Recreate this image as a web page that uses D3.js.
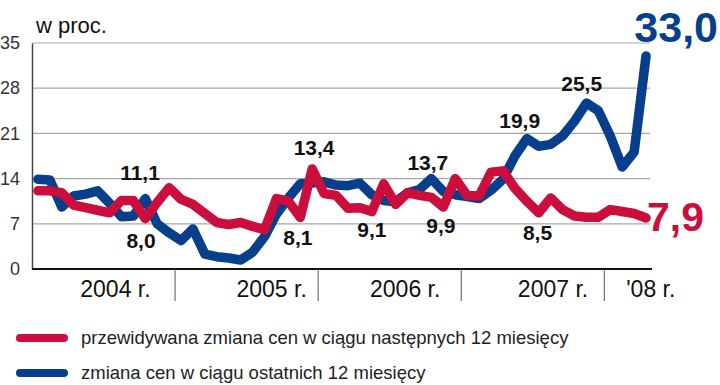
<!DOCTYPE html>
<html>
<head>
<meta charset="utf-8">
<script src="https://cdn.jsdelivr.net/npm/d3@7"></script>
<style>
  body { margin: 0; background: #fff; }
  text { font-family: "Liberation Sans", Arial, sans-serif; }
</style>
</head>
<body>
<svg width="720" height="385"></svg>
<script>
// monthly values, Jan 2004 .. Apr 2008
var expected = [12.1, 12.1, 11.8, 9.9, 9.5, 9.1, 8.7, 10.6, 10.6, 7.8, 10.3, 12.6,
                10.8, 10.0, 8.6, 7.2, 6.9, 7.2, 6.6, 6.1, 10.9, 10.5, 8.0, 15.5,
                11.7, 11.4, 9.4, 9.5, 8.9, 13.2, 10.0, 11.8, 11.4, 11.1, 9.6, 14.0,
                11.4, 11.3, 15.0, 15.2, 12.5, 10.5, 8.7, 11.0, 9.2, 8.2, 8.0, 8.0,
                9.2, 8.9, 8.6, 7.9];
var perceived = [13.9, 13.8, 9.6, 11.3, 11.6, 12.1, 10.2, 8.1, 8.2, 10.9, 7.0, 5.6,
                 4.4, 6.2, 2.3, 1.9, 1.7, 1.4, 2.6, 5.0, 8.5, 11.0, 13.2, 13.3,
                 13.5, 13.0, 12.9, 13.3, 11.5, 10.6, 10.4, 11.8, 12.3, 14.0, 12.0, 11.5,
                 11.2, 10.9, 12.2, 13.9, 17.5, 20.2, 19.0, 19.3, 20.6, 22.9, 25.7, 24.5,
                 20.6, 15.8, 18.1, 33.0];

var yTicks = [0, 7, 14, 21, 28, 35];
var yearLabels = ["2004 r.", "2005 r.", "2006 r.", "2007 r.", "'08 r."];
var yearLabelMonth = [7.0, 20.1, 31.3, 43.7, 51.9];
var yearBreaks = [12, 24, 36, 48];

var seriesNames = ["przewidywana zmiana cen w ciągu następnych 12 miesięcy",
                   "zmiana cen w ciągu ostatnich 12 miesięcy"];

// callouts: text, month position, value position
var notes = [
    ["11,1", 9.06, 13.8], ["8,0", 9.14, 3.3], ["13,4", 23.66, 17.7], ["8,1", 22.3, 3.7],
    ["9,1", 28.5, 5.0], ["13,7", 33.2, 15.4], ["9,9", 34.3, 5.6], ["19,9", 40.9, 21.9],
    ["25,5", 46.1, 27.5], ["8,5", 42.4, 4.5]
];

var red = "#cc0e3d", blue = "#083f8c";

var svg = d3.select("svg");

var x = d3.scaleLinear().domain([0, 52]).range([32, 652]);
var y = d3.scaleLinear().domain([0, 35]).range([269, 43]);

// gridlines
svg.append("g").selectAll("line")
    .data(yTicks.filter(function(d) { return d > 0; }))
    .enter().append("line")
    .attr("x1", x(0)).attr("x2", 650)
    .attr("y1", function(d) { return y(d); })
    .attr("y2", function(d) { return y(d); })
    .attr("stroke", "#a8a8a8").attr("stroke-width", 1.2);

var yAxis = d3.axisLeft(y).tickValues(yTicks).tickSize(0).tickPadding(12);
var gy = svg.append("g").attr("transform", "translate(" + x(0) + ",0)").call(yAxis);
gy.select(".domain").attr("stroke", "#444").attr("stroke-width", 1.5);
gy.selectAll("text")
    .attr("font-family", "Liberation Sans, Arial, sans-serif")
    .attr("font-size", 18).attr("fill", "#333");

svg.append("text").attr("x", 36).attr("y", 33)
    .attr("font-size", 22).attr("fill", "#111").text("w proc.");

// baseline and year separators
svg.append("line").attr("x1", x(0)).attr("x2", 652)
    .attr("y1", y(0)).attr("y2", y(0))
    .attr("stroke", "#111").attr("stroke-width", 2);

svg.append("g").selectAll("line")
    .data(yearBreaks).enter().append("line")
    .attr("x1", function(d) { return x(d); })
    .attr("x2", function(d) { return x(d); })
    .attr("y1", y(0)).attr("y2", y(0) + 32)
    .attr("stroke", "#555").attr("stroke-width", 1);

svg.append("g").selectAll("text")
    .data(yearLabels).enter().append("text")
    .attr("x", function(d, i) { return x(yearLabelMonth[i]); })
    .attr("y", 297)
    .attr("text-anchor", "middle")
    .attr("font-size", 23).attr("fill", "#111")
    .text(function(d) { return d; });

// lines
var line = d3.line()
    .x(function(d, i) { return x(i + 0.5); })
    .y(function(d) { return y(d); });

svg.append("path").datum(perceived)
    .attr("d", line).attr("fill", "none")
    .attr("stroke", blue).attr("stroke-width", 9.5)
    .attr("stroke-linejoin", "round").attr("stroke-linecap", "round");

svg.append("path").datum(expected)
    .attr("d", line).attr("fill", "none")
    .attr("stroke", red).attr("stroke-width", 9.5)
    .attr("stroke-linejoin", "round").attr("stroke-linecap", "round");

// callouts
svg.append("g").selectAll("text")
    .data(notes).enter().append("text")
    .attr("x", function(d) { return x(d[1]); })
    .attr("y", function(d) { return y(d[2]); })
    .attr("text-anchor", "middle")
    .attr("font-size", 21).attr("font-weight", "bold").attr("fill", "#111")
    .text(function(d) { return d[0]; });

svg.append("text").attr("x", 718).attr("y", 42)
    .attr("text-anchor", "end")
    .attr("font-size", 43).attr("font-weight", "bold").attr("fill", blue)
    .text(d3.format(".1f")(perceived[perceived.length - 1]).replace(".", ","));

svg.append("text").attr("x", 647).attr("y", 231)
    .attr("font-size", 41).attr("font-weight", "bold").attr("fill", red)
    .text(d3.format(".1f")(expected[expected.length - 1]).replace(".", ","));

// legend
var legend = svg.append("g").selectAll("g")
    .data(seriesNames).enter().append("g")
    .attr("transform", function(d, i) { return "translate(0," + (338 + i * 35) + ")"; });

legend.append("line")
    .attr("x1", 20).attr("x2", 64)
    .attr("stroke", function(d, i) { return i === 0 ? red : blue; })
    .attr("stroke-width", 8).attr("stroke-linecap", "round");

legend.append("text")
    .attr("x", 81).attr("y", 6)
    .attr("font-size", 18.5).attr("fill", "#222")
    .text(function(d) { return d; });
</script>
</body>
</html>
